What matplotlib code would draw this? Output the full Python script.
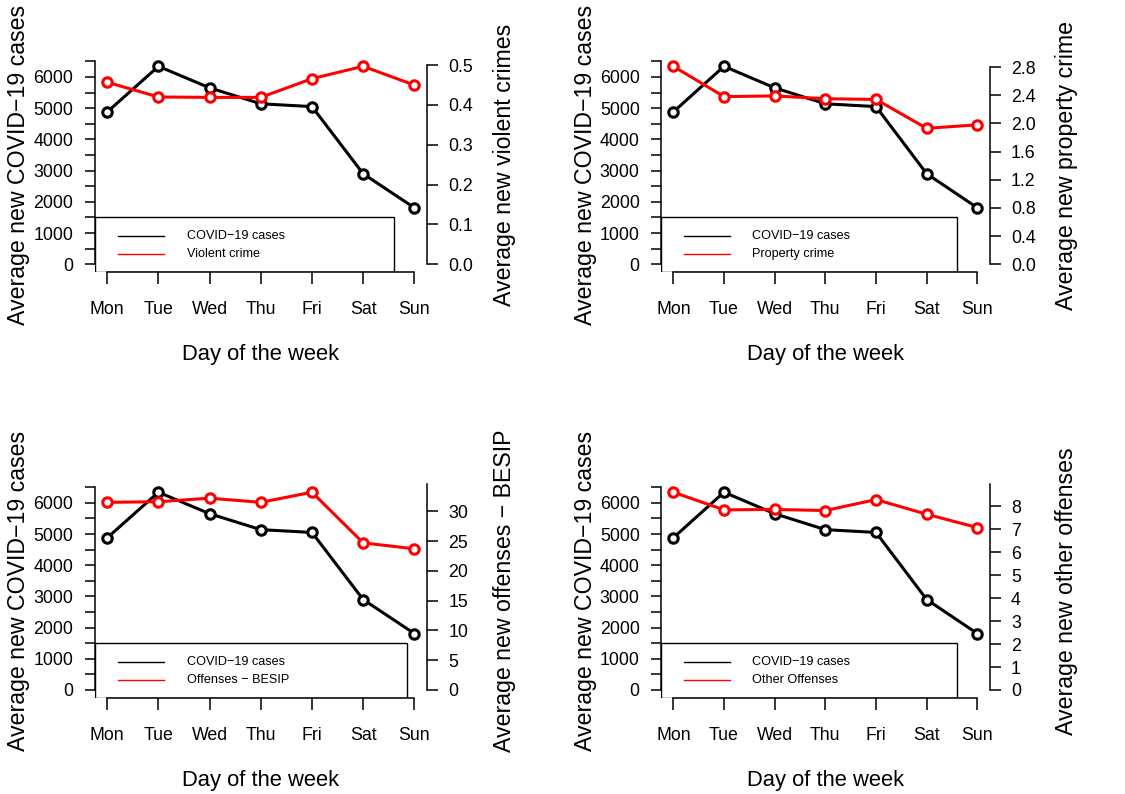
import matplotlib.pyplot as plt
from matplotlib.patches import Rectangle

plt.rcParams['font.family'] = ['Liberation Sans', 'DejaVu Sans']

days = ["Mon", "Tue", "Wed", "Thu", "Fri", "Sat", "Sun"]
covid = [4880, 6340, 5650, 5140, 5050, 2900, 1810]

violent = [0.457, 0.420, 0.419, 0.419, 0.466, 0.497, 0.450]
property_crime = [2.81, 2.38, 2.39, 2.35, 2.34, 1.93, 1.98]
besip = [31.5, 31.6, 32.2, 31.5, 33.2, 24.7, 23.7]
other = [8.62, 7.85, 7.87, 7.82, 8.30, 7.66, 7.08]

covid_ticks = list(range(0, 7000, 500))
violent_ticks = [0.0, 0.1, 0.2, 0.3, 0.4, 0.5]
property_ticks = [0.0, 0.4, 0.8, 1.2, 1.6, 2.0, 2.4, 2.8]
besip_ticks = [0, 5, 10, 15, 20, 25, 30]
other_ticks = [0, 1, 2, 3, 4, 5, 6, 7, 8]

# (series, right label, legend label, ticks, tick format, spine to plot top?, legend right edge)
panels = [
    (violent, "Average new violent crimes", "Violent crime", violent_ticks, "{:.1f}", False, 6.60),
    (property_crime, "Average new property crime", "Property crime", property_ticks, "{:.1f}", False, 6.59),
    (besip, "Average new offenses \u2212 BESIP", "Offenses \u2212 BESIP", besip_ticks, "{:d}", True, 6.86),
    (other, "Average new other offenses", "Other Offenses", other_ticks, "{:d}", True, 6.59),
]

W, H = 1125, 794
fig = plt.figure(figsize=(W / 100, H / 100), dpi=100)

# plot regions in pixels: left, top, width, height
boxes = [(95, 58.4, 331.6, 213.8), (661.2, 58.4, 328.3, 213.8),
         (95, 484.3, 331.6, 213.6), (661.2, 484.3, 328.3, 213.6)]

tick_fs = 12.8
ylab_fs = 16.7
xlab_fs = 15.8
leg_fs = 9.1
x = list(range(1, 8))

for (series, rlabel, leglabel, rticks, fmt, to_top, leg_right), (l, t, w, h) in zip(panels, boxes):
    ax = fig.add_axes([l / W, 1 - (t + h) / H, w / W, h / H])
    ax.patch.set_alpha(0)
    cmax = max(covid)
    ax.set_xlim(0.76, 7.24)
    ax.set_ylim(-0.04 * cmax, 1.04 * cmax)
    ax.plot(x, covid, color='black', lw=2.2, marker='o', ms=6.8, mfc='white', mew=2.2,
            zorder=3)

    for s in ['top', 'right']:
        ax.spines[s].set_visible(False)
    ax.spines['left'].set_bounds(0, 6500)
    ax.spines['bottom'].set_bounds(1, 7)
    for s in ['left', 'bottom']:
        ax.spines[s].set_linewidth(1.1)
    ax.set_xticks(x)
    ax.set_xticklabels(days)
    ax.set_yticks(covid_ticks)
    ax.set_yticklabels([str(v) if v % 1000 == 0 else '' for v in covid_ticks])
    ax.tick_params(axis='x', direction='out', length=8.5, width=1.1, pad=12.5,
                   labelsize=tick_fs)
    ax.tick_params(axis='y', direction='out', length=7.5, width=1.1, pad=8,
                   labelsize=tick_fs)

    # legend box, R style, anchored at the left edge and down to the bottom
    y0 = -0.04 * cmax
    ax.add_patch(Rectangle((0.76, y0), leg_right - 0.76, 1500 - y0, fill=False,
                           edgecolor='black', lw=1.0, zorder=2))
    ax.plot([1.21, 2.11], [897, 897], color='black', lw=1.0, zorder=2)
    ax.plot([1.21, 2.11], [320, 320], color='red', lw=1.0, zorder=2)
    ax.text(2.56, 897, "COVID\u221219 cases", fontsize=leg_fs, va='center', ha='left')
    ax.text(2.56, 320, leglabel, fontsize=leg_fs, va='center', ha='left')

    ax2 = ax.twinx()
    smax = max(series)
    ax2.set_ylim(-0.04 * smax, 1.04 * smax)
    ax2.plot(x, series, color='red', lw=2.2, marker='o', ms=6.8, mfc='white', mew=2.2)
    for s in ['top', 'left', 'bottom']:
        ax2.spines[s].set_visible(False)
    ax2.spines['right'].set_linewidth(1.1)
    ax2.spines['right'].set_bounds(0, 1.04 * smax if to_top else rticks[-1])
    ax2.set_yticks(rticks)
    ax2.set_yticklabels([fmt.format(v) for v in rticks])
    ax2.tick_params(axis='y', direction='out', length=8, width=1.1, pad=7.5,
                    labelsize=tick_fs)

    ax.text(-0.232, 0.5, "Average new COVID\u221219 cases", transform=ax.transAxes,
            rotation=90, ha='center', va='center', fontsize=ylab_fs)
    ax.text(1.235, 0.5, rlabel, transform=ax.transAxes,
            rotation=90, ha='center', va='center', fontsize=ylab_fs)
    ax.text(0.5, -0.387, "Day of the week", transform=ax.transAxes,
            ha='center', va='center', fontsize=xlab_fs)

fig.savefig('out.png', dpi=100)
